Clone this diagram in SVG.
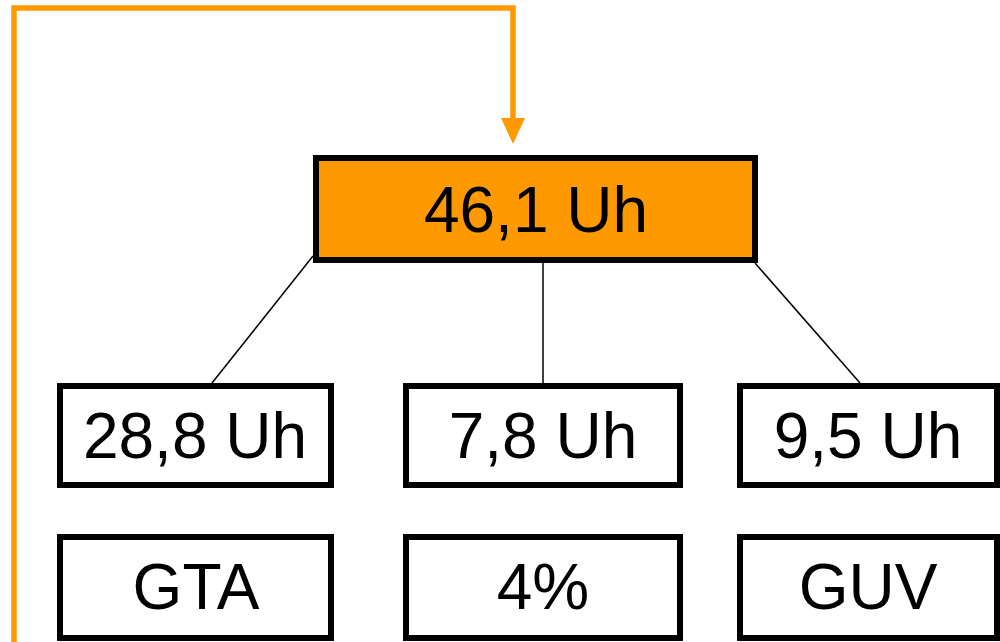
<svg xmlns="http://www.w3.org/2000/svg" width="1000" height="642" viewBox="0 0 1000 642">
<style>
.box{fill:#fff;stroke:#000;stroke-width:6}
.main{fill:#FF9900;stroke:#000;stroke-width:6}
.t{font-family:"Liberation Sans",Arial,sans-serif;font-size:64px;fill:#000;text-anchor:middle}
.c{stroke:#000;stroke-width:1.5;fill:none}
.o{stroke:#FF9900;stroke-width:5.5;fill:none}
</style>
<rect width="1000" height="642" fill="#fff"/>
<g id="connectors">
<path class="o" d="M14 642 V8 H513 V120"/>
<polygon points="501,118 525,118 513,144" fill="#FF9900"/>
<line class="c" x1="313" y1="256" x2="212" y2="383"/>
<line class="c" x1="543" y1="263" x2="543" y2="383"/>
<line class="c" x1="755" y1="263" x2="860" y2="383"/>
</g>
<g id="n-main"><rect class="main" x="316" y="158" width="439" height="102"/><text class="t" x="536" y="232">46,1 Uh</text></g>
<g id="n-a"><rect class="box" x="60" y="386" width="271" height="99"/><text class="t" x="195" y="458">28,8 Uh</text></g>
<g id="n-b"><rect class="box" x="406" y="386" width="274" height="99"/><text class="t" x="543" y="458">7,8 Uh</text></g>
<g id="n-c"><rect class="box" x="740" y="386" width="257" height="99"/><text class="t" x="868" y="458">9,5 Uh</text></g>
<g id="n-d"><rect class="box" x="60" y="537" width="271" height="101"/><text class="t" x="196" y="609">GTA</text></g>
<g id="n-e"><rect class="box" x="406" y="537" width="274" height="101"/><text class="t" x="543" y="609">4%</text></g>
<g id="n-f"><rect class="box" x="740" y="537" width="257" height="101"/><text class="t" x="868" y="609">GUV</text></g>
</svg>
